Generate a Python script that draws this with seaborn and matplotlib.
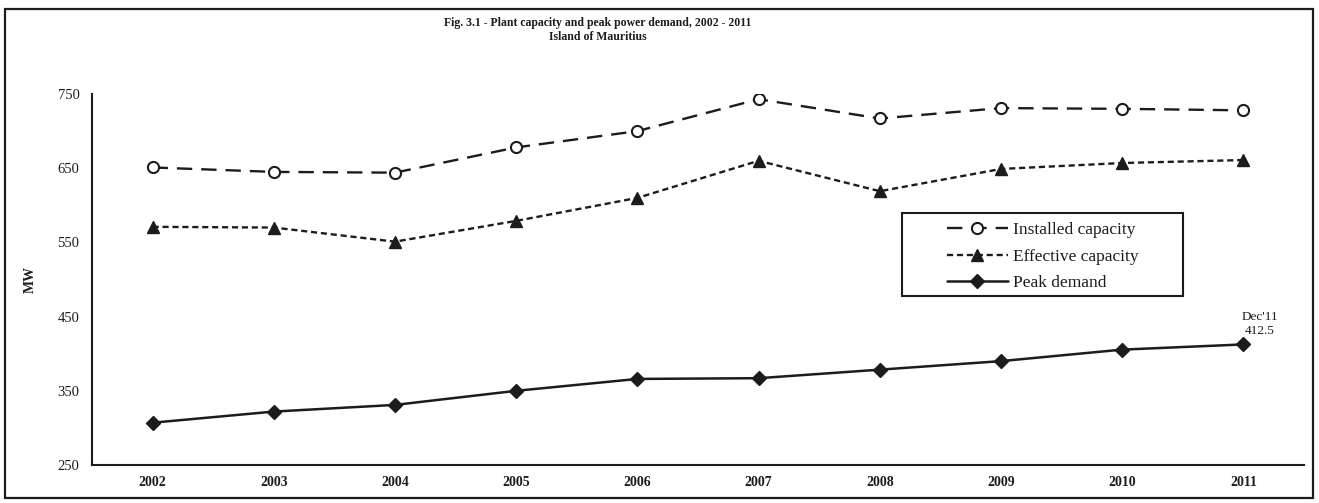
import numpy as np
import pandas as pd
import matplotlib
matplotlib.use("Agg")
import matplotlib.pyplot as plt
from matplotlib.patches import Rectangle
import seaborn as sns

# Plant capacity and peak power demand, Island of Mauritius (MW)
years = ["2002", "2003", "2004", "2005", "2006", "2007", "2008", "2009", "2010", "2011"]
installed_capacity = [651, 645, 644, 678, 700, 743, 717, 731, 730, 728]
effective_capacity = [571, 570, 551, 579, 610, 660, 619, 649, 657, 661]
peak_demand = [307, 322, 331, 350, 366, 367, 378.5, 390, 405.5, 412.5]
yticks = [250, 350, 450, 550, 650, 750]

sns.set_theme(style="white")
plt.rcParams["font.family"] = ["Liberation Serif", "DejaVu Serif"]

ink = "#1c1c1c"
W, H = 1319, 503
fig = plt.figure(figsize=(W / 100, H / 100), dpi=100)
fig.patch.set_facecolor("white")

ax_l, ax_r, ax_b, ax_t = 92, 1304, 465, 94
ax = fig.add_axes([ax_l / W, 1 - ax_b / H, (ax_r - ax_l) / W, (ax_b - ax_t) / H])

df = pd.DataFrame({
    "pos": np.arange(len(years)),
    "installed": installed_capacity,
    "effective": effective_capacity,
    "peak": peak_demand,
})

sns.lineplot(data=df, x="pos", y="installed", ax=ax, color=ink, lw=1.7,
             linestyle=(0, (6.5, 3.8)), marker="o", markersize=8,
             markerfacecolor="white", markeredgecolor=ink, markeredgewidth=1.5,
             label="Installed capacity")
sns.lineplot(data=df, x="pos", y="effective", ax=ax, color=ink, lw=1.7,
             linestyle=(0, (2.6, 1.6)), marker="^", markersize=9,
             markerfacecolor=ink, markeredgecolor=ink, markeredgewidth=1,
             label="Effective capacity")
sns.lineplot(data=df, x="pos", y="peak", ax=ax, color=ink, lw=1.8,
             linestyle="-", marker="D", markersize=7.5,
             markerfacecolor=ink, markeredgecolor=ink, markeredgewidth=1,
             label="Peak demand")

# Latest peak value note
last = len(years) - 1
ax.annotate(f"Dec'11\n{peak_demand[last]:g}", xy=(last, peak_demand[last]),
            xytext=(12, 5), textcoords="offset points", ha="center", va="bottom",
            fontsize=9.5, color=ink, linespacing=1.3)

ax.set_xlim(-0.5, len(years) - 0.5)
ax.set_ylim(yticks[0], yticks[-1])
ax.set_yticks(yticks)
ax.set_yticklabels([str(v) for v in yticks], fontsize=10.5)
ax.set_xticks(np.arange(-0.5, len(years), 1.0))
ax.set_xticklabels([])
ax.set_xticks(np.arange(len(years)), minor=True)
ax.set_xticklabels(years, minor=True, fontsize=10, fontweight="bold")
ax.tick_params(axis="x", which="major", direction="out", length=4, width=1.2, color=ink)
ax.tick_params(axis="x", which="minor", length=0, pad=8, labelcolor=ink)
ax.tick_params(axis="y", direction="out", length=4, width=1.2, color=ink, pad=5, labelcolor=ink)
ax.set_xlabel("")
ax.set_ylabel("MW", fontsize=10, fontweight="bold", color=ink, labelpad=15)

for side in ("top", "right"):
    ax.spines[side].set_visible(False)
for side in ("left", "bottom"):
    ax.spines[side].set_color(ink)
    ax.spines[side].set_linewidth(1.5)
ax.grid(False)

# Legend with a boxed frame
leg = ax.legend(loc="upper left", bbox_to_anchor=((947 - ax_l) / (ax_r - ax_l), (ax_b - 222) / (ax_b - ax_t)),
                frameon=False, fontsize=12.5, handlelength=3.5, handletextpad=0.3,
                labelspacing=0.6, borderpad=0, borderaxespad=0)
for t in leg.get_texts():
    t.set_color(ink)
ax.add_patch(Rectangle(((902 - ax_l) / (ax_r - ax_l), (ax_b - 296) / (ax_b - ax_t)),
                       (1183 - 902) / (ax_r - ax_l), (296 - 213) / (ax_b - ax_t),
                       transform=ax.transAxes, fill=False, edgecolor=ink, lw=1.5,
                       zorder=5, clip_on=False))

fig.text(598 / W, 1 - 23 / H, "Fig. 3.1 - Plant capacity and peak power demand, 2002 - 2011",
         ha="center", va="center", fontsize=8.5, fontweight="bold", color=ink)
fig.text(598 / W, 1 - 37 / H, "Island of Mauritius",
         ha="center", va="center", fontsize=8.5, fontweight="bold", color=ink)

# Outer frame around the whole chart
fig.add_artist(Rectangle((5 / W, 1 - 498 / H), 1308 / W, 489 / H, transform=fig.transFigure,
                         fill=False, edgecolor=ink, lw=1.6))

fig.savefig("out.png", dpi=100, facecolor="white")
